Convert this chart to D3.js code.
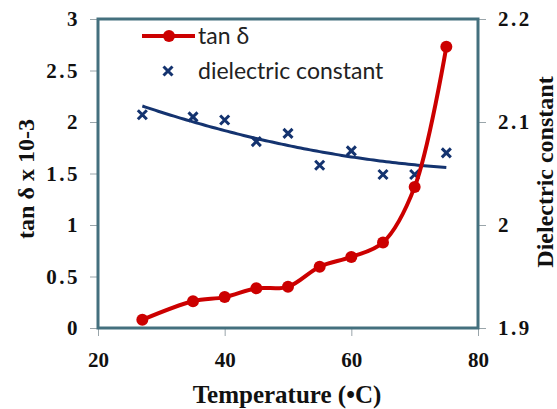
<!DOCTYPE html>
<html>
<head>
<meta charset="utf-8">
<script src="https://cdn.jsdelivr.net/npm/d3@7"></script>
<style>
  body { margin: 0; background: #fff; }
  svg { display: block; }
</style>
</head>
<body>
<div id="chart"></div>
<script>
// data
var temps = [27, 35, 40, 45, 50, 55, 60, 65, 70, 75];
var tanDelta = [0.08, 0.26, 0.30, 0.385, 0.40, 0.595, 0.69, 0.83, 1.37, 2.73];
var dielectric = [2.107, 2.105, 2.102, 2.081, 2.089, 2.058, 2.072, 2.049, 2.049, 2.070];
var xTicks = [20, 40, 60, 80];
var leftTicks = [0, 0.5, 1, 1.5, 2, 2.5, 3];
var rightTicks = [1.9, 2, 2.1, 2.2];

var w = 557, h = 409;
var padL = 98, padR = 478, padT = 19, padB = 328;

var svg = d3.select("#chart").append("svg")
    .attr("width", w)
    .attr("height", h);

var x = d3.scaleLinear().domain([20, 80]).range([padL, padR]);
var yL = d3.scaleLinear().domain([0, 3]).range([padB, padT]);
var yR = d3.scaleLinear().domain([1.9, 2.2]).range([padB, padT]);

var serif = "'Liberation Serif', 'Times New Roman', serif";

// axes
var xaxis = d3.axisBottom(x).tickValues(xTicks).tickSize(8).tickPadding(16).tickFormat(d3.format("d"));
var yaxisL = d3.axisLeft(yL).tickValues(leftTicks).tickSize(8).tickPadding(10).tickFormat(d3.format("~g"));
var yaxisR = d3.axisRight(yR).tickValues(rightTicks).tickSize(8).tickPadding(12).tickFormat(d3.format("~g"));

function styleAxis(g) {
    g.select(".domain").remove();
    g.selectAll(".tick line").attr("stroke", "#9aa5aa");
    g.selectAll(".tick text")
        .attr("fill", "#111")
        .style("font-family", serif)
        .style("font-weight", "bold")
        .style("font-size", "21px");
}

svg.append("g").attr("transform", "translate(0," + padB + ")").call(xaxis).call(styleAxis);
svg.append("g").attr("transform", "translate(" + padL + ",0)").call(yaxisL).call(styleAxis)
    .selectAll(".tick text").style("letter-spacing", "2.5px");
svg.append("g").attr("transform", "translate(" + padR + ",0)").call(yaxisR).call(styleAxis)
    .selectAll(".tick text").style("letter-spacing", "2.5px");

// frame
svg.append("rect")
    .attr("x", padL)
    .attr("y", padT)
    .attr("width", padR - padL)
    .attr("height", padB - padT)
    .attr("fill", "none")
    .attr("stroke", "#44707e")
    .attr("stroke-width", 3);

// quadratic trend for dielectric constant (least squares)
function quadFit(xs, ys) {
    var n = xs.length, s = [0, 0, 0, 0, 0], t = [0, 0, 0];
    for (var i = 0; i < n; i++) {
        var p = 1;
        for (var k = 0; k < 5; k++) { s[k] += p; if (k < 3) t[k] += p * ys[i]; p *= xs[i]; }
    }
    var A = [[s[0], s[1], s[2], t[0]], [s[1], s[2], s[3], t[1]], [s[2], s[3], s[4], t[2]]];
    for (var c = 0; c < 3; c++) {
        for (var r = c + 1; r < 3; r++) {
            var f = A[r][c] / A[c][c];
            for (var j = c; j < 4; j++) A[r][j] -= f * A[c][j];
        }
    }
    var b = [0, 0, 0];
    for (var r2 = 2; r2 >= 0; r2--) {
        var sum = A[r2][3];
        for (var j2 = r2 + 1; j2 < 3; j2++) sum -= A[r2][j2] * b[j2];
        b[r2] = sum / A[r2][r2];
    }
    return function (v) { return b[0] + b[1] * v + b[2] * v * v; };
}
var fit = quadFit(temps, dielectric);
var trendPts = d3.range(temps[0], temps[temps.length - 1] + 0.01, 0.5);

svg.append("path")
    .datum(trendPts)
    .attr("fill", "none")
    .attr("stroke", "#14336f")
    .attr("stroke-width", 3)
    .attr("d", d3.line().x(function (d) { return x(d); }).y(function (d) { return yR(fit(d)); }));

// cross markers
function cross(g, cx, cy) {
    var s = 4.5;
    g.append("path")
        .attr("d", "M" + (cx - s) + "," + (cy - s) + "L" + (cx + s) + "," + (cy + s) +
            "M" + (cx + s) + "," + (cy - s) + "L" + (cx - s) + "," + (cy + s))
        .attr("stroke", "#14336f")
        .attr("stroke-width", 3)
        .attr("fill", "none");
}
var crossG = svg.append("g");
temps.forEach(function (t, i) { cross(crossG, x(t), yR(dielectric[i])); });

// tan delta smoothed line
svg.append("path")
    .datum(temps)
    .attr("fill", "none")
    .attr("stroke", "#cc0000")
    .attr("stroke-width", 4)
    .attr("d", d3.line().curve(d3.curveCatmullRom.alpha(0.5))
        .x(function (d) { return x(d); })
        .y(function (d, i) { return yL(tanDelta[i]); }));

svg.append("g").selectAll("circle")
    .data(temps)
    .enter().append("circle")
    .attr("cx", function (d) { return x(d); })
    .attr("cy", function (d, i) { return yL(tanDelta[i]); })
    .attr("r", 6)
    .attr("fill", "#cc0000");

// legend
var legend = svg.append("g");
legend.append("line").attr("x1", 142).attr("x2", 195).attr("y1", 36).attr("y2", 36)
    .attr("stroke", "#cc0000").attr("stroke-width", 4);
legend.append("circle").attr("cx", 169).attr("cy", 36).attr("r", 6).attr("fill", "#cc0000");
cross(legend, 168, 71);
legend.append("text").attr("x", 198).attr("y", 44).text("tan δ");
legend.append("text").attr("x", 198).attr("y", 79).text("dielectric constant");
legend.selectAll("text")
    .attr("fill", "#222")
    .style("font-family", "Lato, 'Open Sans', sans-serif")
    .style("font-size", "23px");

// axis titles
svg.append("text")
    .attr("x", 287).attr("y", 403)
    .style("font-size", "25px")
    .text("Temperature (•C)");
svg.append("text")
    .attr("transform", "translate(34,179) rotate(-90)")
    .style("font-size", "24px")
    .text("tan δ x 10-3");
svg.append("text")
    .attr("transform", "translate(553,172) rotate(-90)")
    .style("font-size", "24px")
    .text("Dielectric constant");
svg.selectAll("svg > text")
    .attr("text-anchor", "middle")
    .attr("fill", "#111")
    .style("font-family", serif)
    .style("font-weight", "bold");
</script>
</body>
</html>
